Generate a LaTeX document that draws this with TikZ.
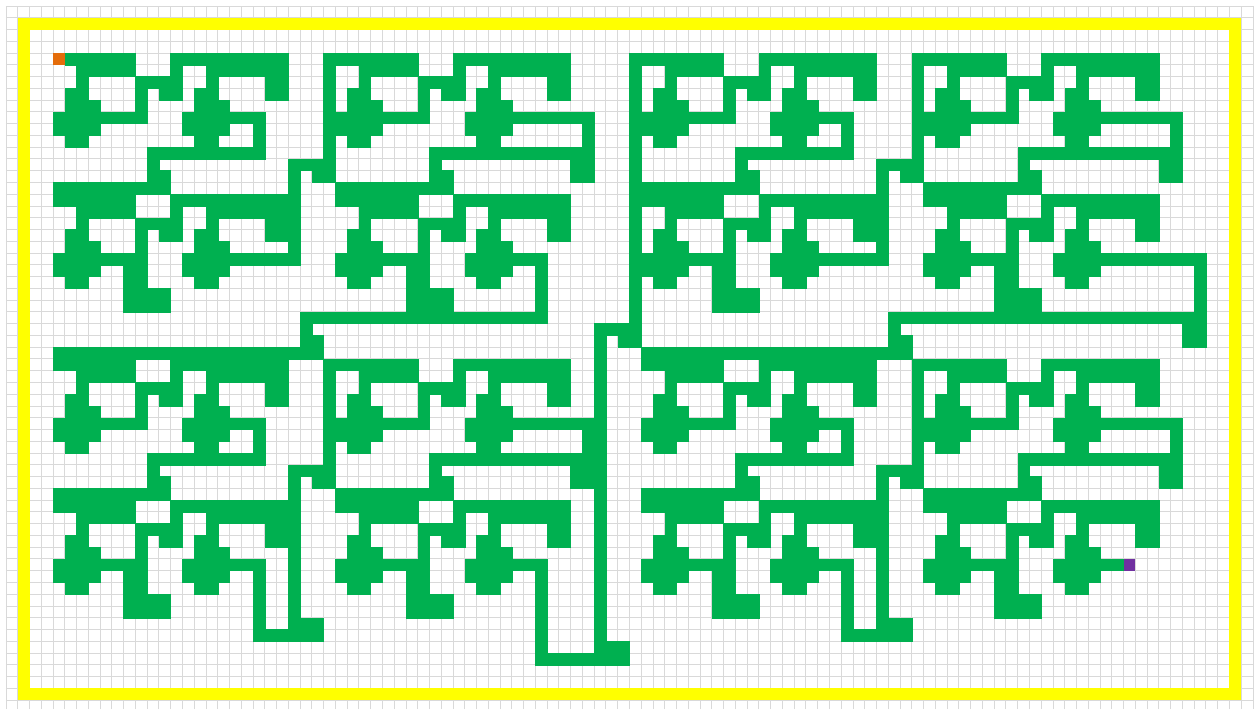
\documentclass[tikz,border=0pt]{standalone}
\usepackage{xcolor}
\usepackage{tikz}
\definecolor{pathgreen}{HTML}{00B050}
\definecolor{startorange}{HTML}{E46C0A}
\definecolor{goalpurple}{HTML}{7030A0}
\definecolor{wallyellow}{HTML}{FFFF00}
\definecolor{gridgrey}{HTML}{D9D9D9}
\tikzset{
  cellgrid/.style={draw=gridgrey, line width=0.7pt},
  pathcell/.style={fill=pathgreen, draw=pathgreen, line width=0.3pt},
  wallcell/.style={fill=wallyellow},
  startcell/.style={fill=startorange},
  goalcell/.style={fill=goalpurple},
}
% one row of the path: row, then first/last column of each run
\newcommand{\mazerow}[2]{%
  \foreach \a/\b in {#2} {\fill[pathcell] (\a,-#1) rectangle (\b+1,-#1-1);}%
}
\begin{document}
\begin{tikzpicture}[x=0.3cm, y=0.3cm]
  \useasboundingbox (-0.51,0.51) rectangle (106.51,-59.76);
  \fill[white] (-0.51,0.51) rectangle (106.51,-59.76);
  \draw[cellgrid, step=1] (0,-59.76) grid (106,0);
  % yellow frame
  \fill[wallcell] (1,-1) rectangle (105,-2);
  \fill[wallcell] (1,-58) rectangle (105,-59);
  \fill[wallcell] (1,-1) rectangle (2,-59);
  \fill[wallcell] (104,-1) rectangle (105,-59);
  % green path
  \mazerow{4}{5/10,14/23,27/34,38/47,53/60,64/73,77/84,88/97}
  \mazerow{5}{6/10,14/14,17/23,27/27,30/34,38/38,41/47,53/53,56/60,64/64,67/73,77/77,80/84,88/88,91/97}
  \mazerow{6}{6/6,11/14,17/17,22/23,27/27,30/30,35/38,41/41,46/47,53/53,56/56,61/64,67/67,72/73,77/77,80/80,85/88,91/91,96/97}
  \mazerow{7}{5/6,11/11,13/14,16/17,22/23,27/27,29/30,35/35,37/38,40/41,46/47,53/53,55/56,61/61,63/64,66/67,72/73,77/77,79/80,85/85,87/88,90/91,96/97}
  \mazerow{8}{5/7,11/11,16/18,27/27,29/31,35/35,40/42,53/53,55/57,61/61,66/68,77/77,79/81,85/85,90/92}
  \mazerow{9}{4/11,15/21,27/35,39/49,53/61,65/71,77/85,89/99}
  \mazerow{10}{4/7,15/18,21/21,27/31,39/42,49/49,53/57,65/68,71/71,77/81,89/92,99/99}
  \mazerow{11}{5/6,16/17,21/21,27/27,29/30,40/41,49/49,53/53,55/56,66/67,71/71,77/77,79/80,90/91,99/99}
  \mazerow{12}{12/21,27/27,36/49,53/53,62/71,77/77,86/99}
  \mazerow{13}{12/12,24/27,36/36,48/49,53/53,62/62,74/77,86/86,98/99}
  \mazerow{14}{12/13,24/24,26/27,36/37,48/49,53/53,62/63,74/74,76/77,86/87,98/99}
  \mazerow{15}{4/13,24/24,28/37,53/63,74/74,78/87}
  \mazerow{16}{4/10,14/24,28/34,38/47,53/60,64/74,78/84,88/97}
  \mazerow{17}{6/10,14/14,17/24,30/34,38/38,41/47,53/53,56/60,64/64,67/74,80/84,88/88,91/97}
  \mazerow{18}{6/6,11/14,17/17,22/24,30/30,35/38,41/41,46/47,53/53,56/56,61/64,67/67,72/74,80/80,85/88,91/91,96/97}
  \mazerow{19}{5/6,11/11,13/14,16/17,22/24,29/30,35/35,37/38,40/41,46/47,53/53,55/56,61/61,63/64,66/67,72/74,79/80,85/85,87/88,90/91,96/97}
  \mazerow{20}{5/7,11/11,16/18,24/24,29/31,35/35,40/42,53/53,55/57,61/61,66/68,74/74,79/81,85/85,90/92}
  \mazerow{21}{4/11,15/24,28/35,39/45,53/61,65/74,78/85,89/101}
  \mazerow{22}{4/7,10/11,15/18,28/31,34/35,39/42,45/45,53/57,60/61,65/68,78/81,84/85,89/92,101/101}
  \mazerow{23}{5/6,10/11,16/17,29/30,34/35,40/41,45/45,53/53,55/56,60/61,66/67,79/80,84/85,90/91,101/101}
  \mazerow{24}{10/13,34/37,45/45,53/53,60/63,84/87,101/101}
  \mazerow{25}{10/13,34/37,45/45,53/53,60/63,84/87,101/101}
  \mazerow{26}{25/45,53/53,75/101}
  \mazerow{27}{25/25,50/53,75/75,100/101}
  \mazerow{28}{25/26,50/50,52/53,75/76,100/101}
  \mazerow{29}{4/26,50/50,54/76}
  \mazerow{30}{4/10,14/23,27/34,38/47,50/50,54/60,64/73,77/84,88/97}
  \mazerow{31}{6/10,14/14,17/23,27/27,30/34,38/38,41/47,50/50,56/60,64/64,67/73,77/77,80/84,88/88,91/97}
  \mazerow{32}{6/6,11/14,17/17,22/23,27/27,30/30,35/38,41/41,46/47,50/50,56/56,61/64,67/67,72/73,77/77,80/80,85/88,91/91,96/97}
  \mazerow{33}{5/6,11/11,13/14,16/17,22/23,27/27,29/30,35/35,37/38,40/41,46/47,50/50,55/56,61/61,63/64,66/67,72/73,77/77,79/80,85/85,87/88,90/91,96/97}
  \mazerow{34}{5/7,11/11,16/18,27/27,29/31,35/35,40/42,50/50,55/57,61/61,66/68,77/77,79/81,85/85,90/92}
  \mazerow{35}{4/11,15/21,27/35,39/50,54/61,65/71,77/85,89/99}
  \mazerow{36}{4/7,15/18,21/21,27/31,39/42,49/50,54/57,65/68,71/71,77/81,89/92,99/99}
  \mazerow{37}{5/6,16/17,21/21,27/27,29/30,40/41,49/50,55/56,66/67,71/71,77/77,79/80,90/91,99/99}
  \mazerow{38}{12/21,27/27,36/50,62/71,77/77,86/99}
  \mazerow{39}{12/12,24/27,36/36,48/50,62/62,74/77,86/86,98/99}
  \mazerow{40}{12/13,24/24,26/27,36/37,48/50,62/63,74/74,76/77,86/87,98/99}
  \mazerow{41}{4/13,24/24,28/37,50/50,54/63,74/74,78/87}
  \mazerow{42}{4/10,14/24,28/34,38/47,50/50,54/60,64/74,78/84,88/97}
  \mazerow{43}{6/10,14/14,17/24,30/34,38/38,41/47,50/50,56/60,64/64,67/74,80/84,88/88,91/97}
  \mazerow{44}{6/6,11/14,17/17,22/24,30/30,35/38,41/41,46/47,50/50,56/56,61/64,67/67,72/74,80/80,85/88,91/91,96/97}
  \mazerow{45}{5/6,11/11,13/14,16/17,22/24,29/30,35/35,37/38,40/41,46/47,50/50,55/56,61/61,63/64,66/67,72/74,79/80,85/85,87/88,90/91,96/97}
  \mazerow{46}{5/7,11/11,16/18,24/24,29/31,35/35,40/42,50/50,55/57,61/61,66/68,74/74,79/81,85/85,90/92}
  \mazerow{47}{4/11,15/21,24/24,28/35,39/45,50/50,54/61,65/71,74/74,78/85,89/94}
  \mazerow{48}{4/7,10/11,15/18,21/21,24/24,28/31,34/35,39/42,45/45,50/50,54/57,60/61,65/68,71/71,74/74,78/81,84/85,89/92}
  \mazerow{49}{5/6,10/11,16/17,21/21,24/24,29/30,34/35,40/41,45/45,50/50,55/56,60/61,66/67,71/71,74/74,79/80,84/85,90/91}
  \mazerow{50}{10/13,21/21,24/24,34/37,45/45,50/50,60/63,71/71,74/74,84/87}
  \mazerow{51}{10/13,21/21,24/24,34/37,45/45,50/50,60/63,71/71,74/74,84/87}
  \mazerow{52}{21/21,24/26,45/45,50/50,71/71,74/76}
  \mazerow{53}{21/26,45/45,50/50,71/76}
  \mazerow{54}{45/45,50/52}
  \mazerow{55}{45/52}
  % start and goal
  \fill[startcell] (4,-4) rectangle (5,-5);
  \fill[goalcell] (95,-47) rectangle (96,-48);
\end{tikzpicture}
\end{document}
